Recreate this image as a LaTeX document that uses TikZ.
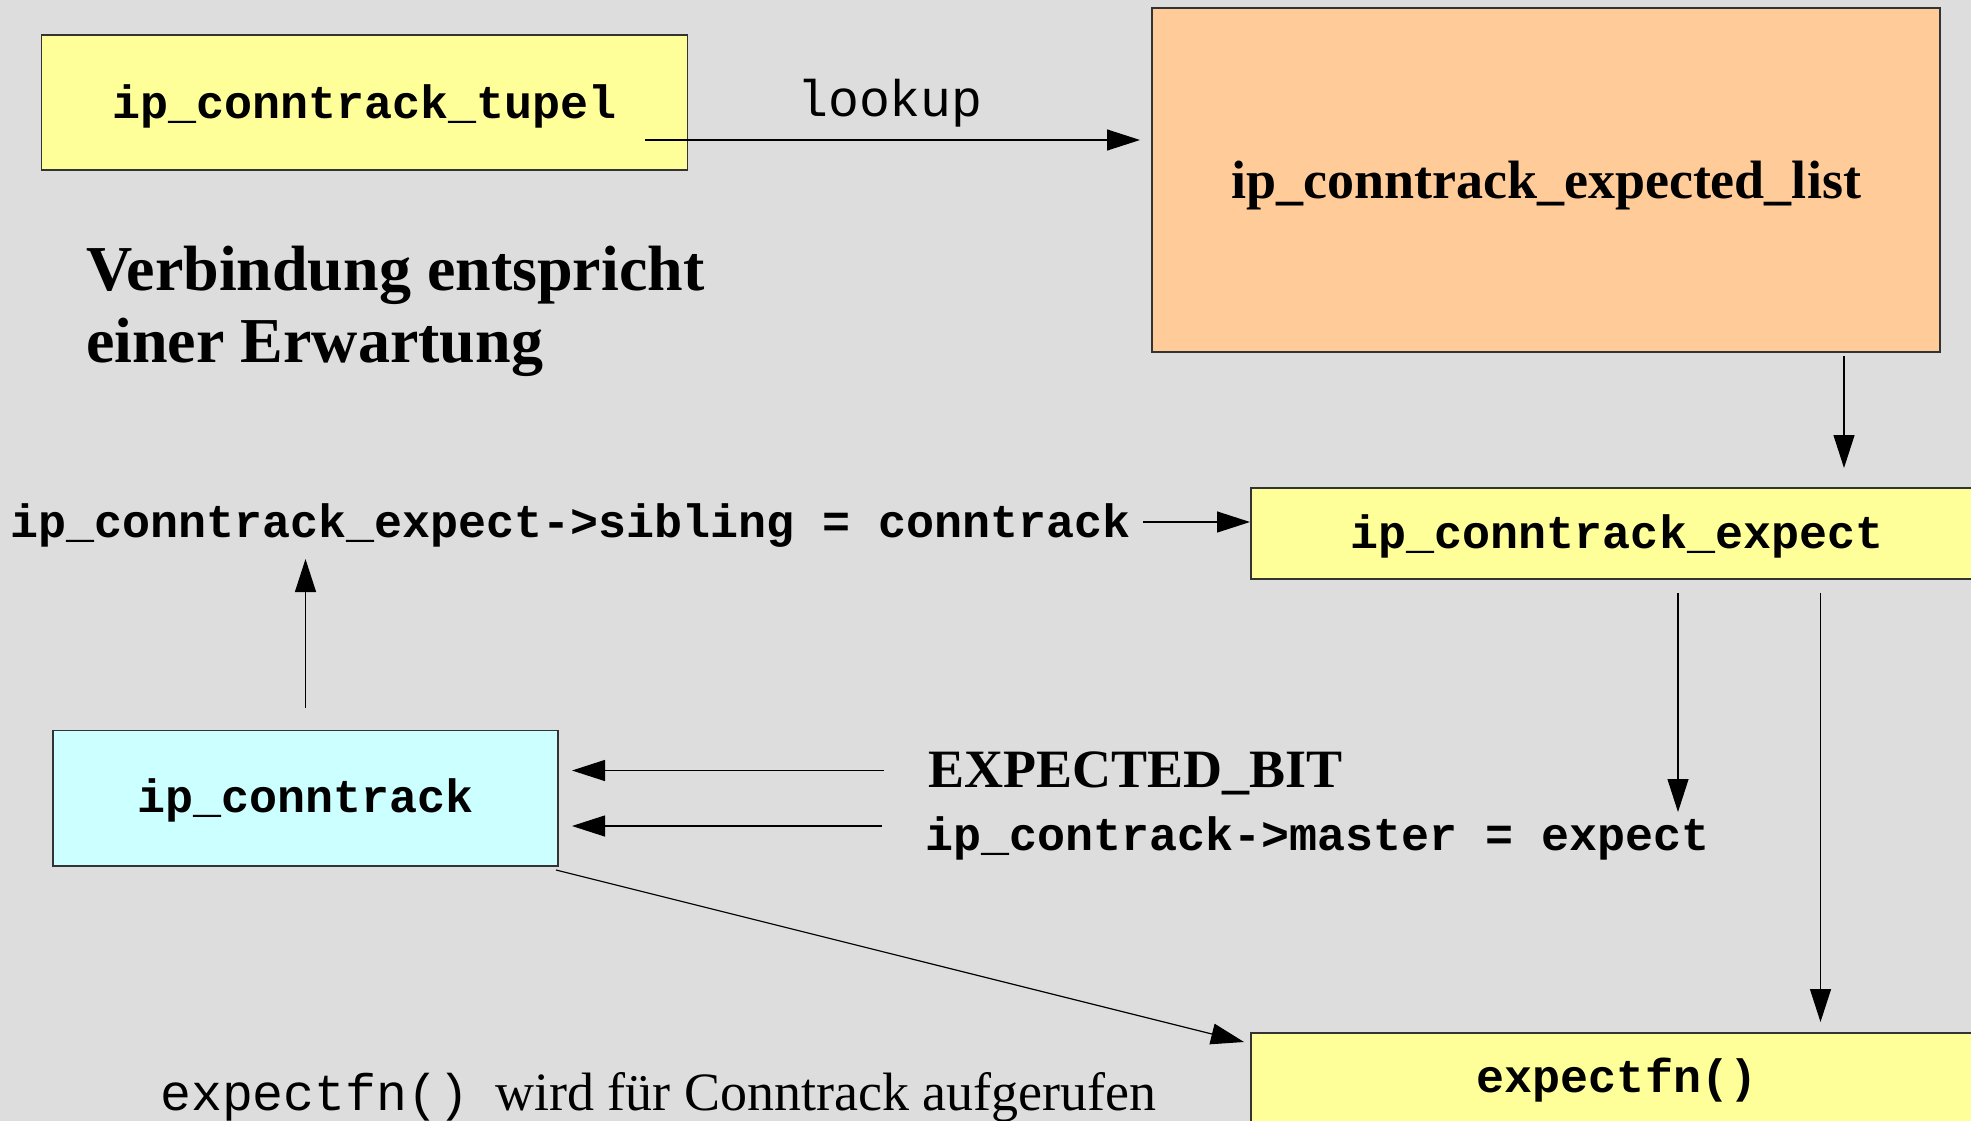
\documentclass[tikz,border=0pt]{standalone}
\usepackage{fontspec}
\setmainfont{Liberation Serif}
\setmonofont{Liberation Mono}
\usetikzlibrary{arrows.meta}
\definecolor{canvas}{RGB}{221,221,221}
\definecolor{boxyellow}{RGB}{255,255,153}
\definecolor{boxorange}{RGB}{255,204,153}
\definecolor{boxcyan}{RGB}{204,255,255}
\definecolor{edge}{RGB}{51,51,51}
\begin{document}
\begin{tikzpicture}[x=1pt,y=-1pt,
  box/.style={draw=edge, line width=1.5pt, inner sep=0pt, anchor=center},
  codebox/.style={box, font=\ttfamily\bfseries\fontsize{46.7}{50}\selectfont, text height=30pt, text depth=0pt},
  code/.style={font=\ttfamily\bfseries\fontsize{46.7}{50}\selectfont, inner sep=0pt, anchor=base west},
  plaincode/.style={font=\ttfamily\fontsize{51.5}{56}\selectfont, inner sep=0pt, anchor=base west},
  serifbold/.style={font=\bfseries\fontsize{54}{60}\selectfont, inner sep=0pt, anchor=base west},
  headline/.style={font=\bfseries\fontsize{64}{72}\selectfont, inner sep=0pt, anchor=base west},
  arr/.style={draw=black, line width=1.2pt, -{Triangle[length=33pt,width=21pt]}},
]
\fill[canvas] (0,0) rectangle (1971,1121);
\clip (0,0) rectangle (1971,1121);

% boxes
\node[codebox, fill=boxyellow, minimum width=646pt, minimum height=135pt, text height=33pt] (tupel) at (364.5,102.5) {ip\_conntrack\_tupel};
\node[box, fill=boxorange, minimum width=788pt, minimum height=344pt,
      font=\bfseries\fontsize{54}{60}\selectfont, text height=36pt, text depth=0pt] (list) at (1546,180) {ip\_conntrack\_expected\_list};
\node[codebox, fill=boxyellow, minimum width=732pt, minimum height=91pt] (expect) at (1617,533.5) {ip\_conntrack\_expect};
\node[codebox, fill=boxcyan, minimum width=505pt, minimum height=135.5pt, text height=29pt] (ct) at (305.5,798) {ip\_conntrack};
\node[codebox, fill=boxyellow, minimum width=732pt, minimum height=91pt, text height=28pt] (efn) at (1617,1078.5) {expectfn()};

% free texts
\node[plaincode] (lookup) at (797,117) {lookup};
\node[headline] (title1) at (86,290) {Verbindung entspricht};
\node[headline] (title2) at (86,362) {einer Erwartung};
\node[code] (sibling) at (10,537) {ip\_conntrack\_expect->sibling = conntrack};
\node[serifbold] (bit) at (928,787) {EXPECTED\_BIT};
\node[code] (master) at (925,850) {ip\_contrack->master = expect};
\node[plaincode] (note) at (160,1110) {expectfn()\hspace{26pt}\rmfamily\mdseries\fontsize{54}{60}\selectfont wird für Conntrack aufgerufen};

% connector ends
\coordinate (lookfrom) at (645,140);
\coordinate (lookto) at (1140,140);
\coordinate (listout) at (1844,356);
\coordinate (expectin) at (1844,468);
\coordinate (sibfrom) at (1143,522);
\coordinate (sibto) at (1250,522);
\coordinate (ctup) at (305.5,708);
\coordinate (sibup) at (305.5,559);
\coordinate (bitfrom) at (884,770.5);
\coordinate (bitto) at (572,770.5);
\coordinate (masfrom) at (881.5,826);
\coordinate (masto) at (572,826);
\coordinate (expdown) at (1678,593);
\coordinate (expdownto) at (1678,812);
\coordinate (fndown) at (1820.5,593);
\coordinate (fndownto) at (1820.5,1022);
\coordinate (ctdiag) at (556,870);
\coordinate (efnin) at (1244,1042);

% connectors
\draw[arr] (lookfrom) -- (lookto);
\draw[arr] (listout) -- (expectin);
\draw[arr] (sibfrom) -- (sibto);
\draw[arr] (ctup) -- (sibup);
\draw[arr] (bitfrom) -- (bitto);
\draw[arr] (masfrom) -- (masto);
\draw[arr] (expdown) -- (expdownto);
\draw[arr] (fndown) -- (fndownto);
\draw[arr] (ctdiag) -- (efnin);
\end{tikzpicture}
\end{document}
